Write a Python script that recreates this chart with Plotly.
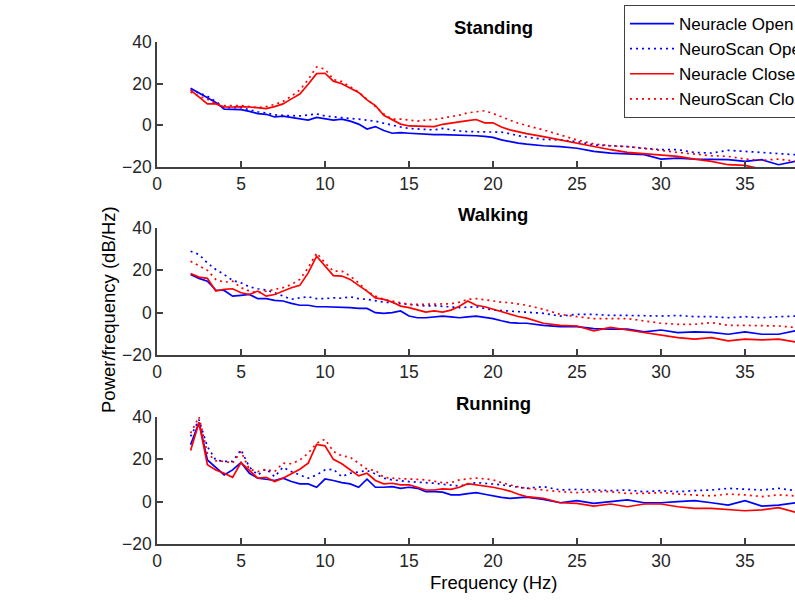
import plotly.graph_objects as go

# Frequency grid (Hz)
freq = [2, 2.5, 3, 3.5, 4, 4.5, 5, 5.5, 6, 6.5, 7, 7.5, 8, 8.5, 9, 9.5, 10, 10.5, 11, 11.5,
        12, 12.5, 13, 13.5, 14, 14.5, 15, 15.5, 16, 16.5, 17, 17.5,
        18, 18.5, 19, 19.5, 20, 20.5, 21, 21.5, 22,
        23, 24, 25, 26, 27, 28, 29, 30, 31, 32, 33, 34, 35, 36, 37, 38]

# ---- Standing ----
stand_neuracle_open = [17.8, 15.5, 13.4, 11.0, 7.8, 7.5, 7.5, 6.7, 5.6, 5.3, 4.0, 4.4, 3.8, 3.0, 2.5, 3.8, 3.3, 2.5, 3.0, 2.0,
                       0.6, -1.8, -0.6, -2.5, -3.8, -3.5, -3.8, -4.0, -4.5, -4.5, -4.5, -4.6,
                       -4.6, -4.7, -5.0, -5.3, -5.8, -7.0, -7.8, -8.5, -9.0,
                       -9.8, -10.2, -11.0, -12.5, -13.3, -13.7, -14.1, -16.2, -15.7, -16.2, -16.2, -16.5, -17.3, -16.5, -18.9, -17.3]
stand_neuroscan_open = [17, 15.5, 14, 11.5, 8.5, 8.5, 8.5, 7.5, 6.5, 6, 5, 4.8, 4.5, 4.5, 5, 5.5, 4.5, 4, 3.5, 3.3,
                        3, 2.5, 2, 1, 0, -0.8, -1.5, -1.8, -2, -2.2, -1.5, -2.2,
                        -2.7, -3, -3, -3, -3, -3.3, -4, -5, -5.6,
                        -6.7, -7, -7.8, -9.4, -9.8, -10.2, -11, -11.7, -11.7, -13, -13.3, -12, -12.5, -13, -13.7, -14.1]
stand_neuracle_close = [16.9, 13.4, 10.3, 10.3, 8.8, 8.8, 9, 8.8, 8.4, 8, 9, 10.3, 12.7, 15, 19.7, 24.8, 25, 21.2, 20, 17.8,
                        15.8, 12.2, 9.5, 4.8, 2.5, 0.6, -0.3, -0.3, -0.3, -0.6, 0.5, 1.2,
                        1.8, 2.3, 2.8, 1.2, 1.2, -0.8, -2.2, -3.2, -4,
                        -5.4, -7, -8.3, -10.2, -11.7, -13, -13.7, -14.1, -14.9, -16.2, -17.3, -18.9, -19.2, -21, -21.5, -22]
stand_neuroscan_close = [16, 14, 12.5, 10.5, 9.5, 9.5, 9.5, 9, 8.5, 9, 10, 11.5, 14, 17, 22, 28, 27, 22, 21, 18.5,
                         16, 12.5, 9, 5.5, 3, 3, 2.5, 2, 2.5, 2.8, 3.5, 4.2,
                         4.9, 6, 6.5, 7, 5.7, 4, 2.5, 1, 0,
                         -2.2, -4.6, -7, -8.9, -9.8, -10.2, -11, -12, -13, -13.7, -14.6, -14.9, -16.2, -16.8, -16.2, -17.3]

# ---- Walking ----
walk_neuracle_open = [18, 16.2, 14.9, 10.7, 10.5, 7.8, 8.2, 8.6, 6.6, 6.6, 5.8, 5.5, 4.4, 3.5, 3.5, 2.8, 2.8, 2.7, 2.8, 2.4,
                      2, 2, 0, -0.3, 0, 0.8, -1.6, -2.4, -2.4, -1.9, -1.6, -2,
                      -2.4, -2, -1.6, -2.2, -2.8, -3.8, -4.7, -4.9, -5,
                      -6, -6.6, -6.6, -7.5, -7.8, -7.8, -9.1, -8.2, -9.4, -9.1, -9.3, -10.2, -9.1, -10.2, -10.2, -8.6]
walk_neuroscan_open = [29, 27.5, 23.5, 20.4, 18, 15.2, 14.1, 12.2, 11.3, 10.7, 9.4, 7.8, 6.3, 7, 7.5, 6.6, 6.6, 7, 6.8, 7.5,
                       6.6, 6.3, 5.5, 5, 4.7, 4.3, 3.9, 3.5, 3.1, 3.3, 3.1, 2.8,
                       2.4, 2.6, 2.8, 2, 1.3, 1, 0.8, 0.5, 0.3,
                       -0.3, -1.6, -0.8, -0.8, -1.3, -1.3, -1.6, -1.6, -1.3, -1.9, -1.9, -2.4, -1.9, -2.4, -1.9, -1.6]
walk_neuracle_close = [18.5, 16.8, 16.2, 10.2, 11, 11.3, 9.4, 8.6, 10.2, 7.8, 8.6, 10.2, 11.8, 12.9, 18.8, 26.7, 22, 17.5, 17.3, 15.7,
                       12.9, 10.2, 7, 6.3, 5, 3.1, 2.4, 1.3, 0.3, 0.8, 0.3, 1.2,
                       3, 5.5, 3.5, 2.8, 1.6, 0.5, -0.8, -1.8, -2.6,
                       -5, -6, -6.3, -8.6, -7, -8.2, -9.4, -10.7, -11.8, -12.5, -11.8, -13.3, -12.5, -12.9, -12.5, -13.8]
walk_neuroscan_close = [24.3, 22, 20, 15.7, 14.4, 14.9, 11.8, 10.2, 9.4, 10.2, 11, 11.8, 13.3, 15.7, 21.2, 28.2, 23.5, 19.6, 19.6, 17.3,
                        14.1, 10.2, 7.8, 6.3, 5.5, 4.7, 3.9, 3.9, 3.9, 3.9, 3.9, 4.2,
                        5, 6.3, 6.6, 6, 5.5, 5, 4.7, 4, 3.5,
                        1.6, -0.8, -1.9, -2.8, -2.8, -2.8, -3.9, -5, -5.5, -5.5, -4.7, -6, -6, -6, -6.3, -7]

# ---- Running ----
run_neuracle_open = [26.9, 37.4, 19.7, 16.3, 12.6, 15, 18.5, 13.4, 11.1, 10.6, 10, 11.1, 9.5, 8.4, 8.4, 6.8, 10.7, 10, 9, 8.4,
                     6.8, 10.6, 6.8, 6.8, 7.1, 6.3, 6.8, 6.3, 4.7, 4.7, 4.5, 3.2,
                     3.2, 3.8, 4.3, 3.5, 2.7, 2, 1.6, 2, 2.1,
                     1.1, -0.5, 0.5, -0.8, 0, 0.8, -0.5, -0.5, 0, 0.5, -0.5, -1.6, 0.5, -2.1, -1.6, -0.5]
run_neuroscan_open = [30.8, 38.7, 26, 19.7, 19, 19, 24.5, 16.3, 12.6, 15.5, 11.8, 16.3, 14.2, 12.8, 11.1, 12.6, 15, 15.3, 11.8, 13.4,
                      14.2, 14.7, 13.1, 11.1, 10.3, 9.8, 9.5, 9.2, 9, 8.7, 8.2, 7.9,
                      7.4, 8.2, 9, 8.7, 8.4, 8, 7.4, 6.8, 6.3,
                      7.1, 5.5, 5.8, 5.5, 5.2, 5.5, 4.7, 5.2, 4.7, 5.2, 5.5, 6.3, 5.8, 5.5, 6.3, 5.2]
run_neuracle_close = [24.2, 37.4, 17.4, 15, 13.4, 11.5, 18.5, 14.7, 11.1, 11.5, 9.5, 11.1, 13.1, 15.3, 18.2, 27, 26.4, 20, 17.9, 15,
                      12.2, 13.4, 10, 8.4, 8.7, 7.9, 7.9, 6.8, 5.5, 5.5, 6, 5.8,
                      6.8, 8.5, 8, 7.2, 6.8, 6, 5, 3.5, 2.4,
                      1.6, -0.5, -0.8, -2.1, -1.1, -2.4, -1.1, -1.1, -2.4, -3.2, -3.2, -3.9, -4.3, -3.9, -2.8, -5]
run_neuroscan_close = [32.4, 40, 22.9, 19.3, 19, 18.2, 23.7, 15.3, 14.2, 15.3, 14.2, 18.2, 17.9, 19.7, 22.9, 27.6, 29.5, 23.7, 21.6, 21,
                       18.2, 15.3, 14.7, 11.5, 11.1, 10.8, 10.6, 10.5, 10.3, 9.6, 9, 9,
                       10.3, 10.8, 11.1, 10.8, 10.3, 9, 7.9, 7, 6.3,
                       5.5, 4.7, 4.3, 4.7, 4.7, 3.9, 3.9, 4.3, 3.6, 3.2, 2.7, 3.6, 3.2, 2.4, 3.2, 2.7]

panel_titles = ["Standing", "Walking", "Running"]
series_names = ["Neuracle Open", "NeuroScan Open", "Neuracle Close", "NeuroScan Close"]
x_ticks = [0, 5, 10, 15, 20, 25, 30, 35, 40]
y_ticks = [-20, 0, 20, 40]

panels = [
    [stand_neuracle_open, stand_neuroscan_open, stand_neuracle_close, stand_neuroscan_close],
    [walk_neuracle_open, walk_neuroscan_open, walk_neuracle_close, walk_neuroscan_close],
    [run_neuracle_open, run_neuroscan_open, run_neuracle_close, run_neuroscan_close],
]

W, H = 795, 607
FONT = "Liberation Sans, Arial, Helvetica, sans-serif"
AX = "#262626"
AXLINE = "#404040"
styles = [("#0000ff", "solid"), ("#0000ff", "2px,4px"), ("#ff0000", "solid"), ("#ff0000", "2px,4px")]

# pixel geometry of the axes (top, bottom) for each panel
ax_px = [(42, 167), (228, 355), (417, 544)]
x_left = 157

fig = go.Figure()
for p, series in enumerate(panels):
    xa = "x" if p == 0 else f"x{p+1}"
    ya = "y" if p == 0 else f"y{p+1}"
    for s, vals in enumerate(series):
        col, dash = styles[s]
        fig.add_trace(go.Scatter(
            x=freq, y=vals, mode="lines", name=series_names[s],
            line=dict(color=col, width=1.7, dash=dash),
            xaxis=xa, yaxis=ya, showlegend=(p == 0),
            hoverinfo="skip"))

layout = dict(
    width=W, height=H,
    margin=dict(l=0, r=0, t=0, b=0, autoexpand=False),
    paper_bgcolor="white", plot_bgcolor="white",
    font=dict(family=FONT, color=AX, size=17),
    showlegend=True,
    legend=dict(x=624 / W, y=1 - 5 / H, xanchor="left", yanchor="top",
                bgcolor="white", bordercolor=AXLINE, borderwidth=1,
                font=dict(family=FONT, size=17, color="#000000"),
                tracegroupgap=0, itemwidth=44),
)
x_end = (W - x_left) / 16.8
for p in range(3):
    top, bot = ax_px[p]
    xk = "xaxis" if p == 0 else f"xaxis{p+1}"
    yk = "yaxis" if p == 0 else f"yaxis{p+1}"
    layout[xk] = dict(domain=[x_left / W, 1], range=[0, x_end], anchor="y" if p == 0 else f"y{p+1}",
                      showgrid=False, zeroline=False, showline=True, linecolor=AXLINE, linewidth=1.5,
                      ticks="inside", ticklen=6, tickwidth=1.5, tickcolor=AXLINE, tickvals=x_ticks,
                      tickfont=dict(size=17.5, color=AX, family=FONT), fixedrange=True)
    layout[yk] = dict(domain=[(H - bot) / H, (H - top) / H], range=[-20, 40],
                      anchor="x" if p == 0 else f"x{p+1}",
                      showgrid=False, zeroline=False, showline=True, linecolor=AXLINE, linewidth=1.5,
                      ticks="inside", ticklen=6, tickwidth=1.5, tickcolor=AXLINE, tickvals=y_ticks,
                      tickfont=dict(size=17.5, color=AX, family=FONT), fixedrange=True)
fig.update_layout(**layout)

title_y = [27, 215, 404]
for p in range(3):
    fig.add_annotation(x=493 / W, y=1 - title_y[p] / H, xref="paper", yref="paper",
                       text=f"<b>{panel_titles[p]}</b>", showarrow=False,
                       font=dict(size=18.5, color="#000000", family=FONT),
                       xanchor="center", yanchor="middle")
fig.add_annotation(x=108 / W, y=1 - 310 / H, xref="paper", yref="paper",
                   text="Power/frequency (dB/Hz)", textangle=-90, showarrow=False,
                   font=dict(size=18.5, color="#000000", family=FONT),
                   xanchor="center", yanchor="middle")
fig.add_annotation(x=493 / W, y=1 - 582 / H, xref="paper", yref="paper",
                   text="Frequency (Hz)", showarrow=False,
                   font=dict(size=18.5, color="#000000", family=FONT),
                   xanchor="center", yanchor="middle")

fig.write_html("out.html", config={"displayModeBar": False},
               post_script="document.body.style.margin='0';document.body.style.overflow='hidden';")
